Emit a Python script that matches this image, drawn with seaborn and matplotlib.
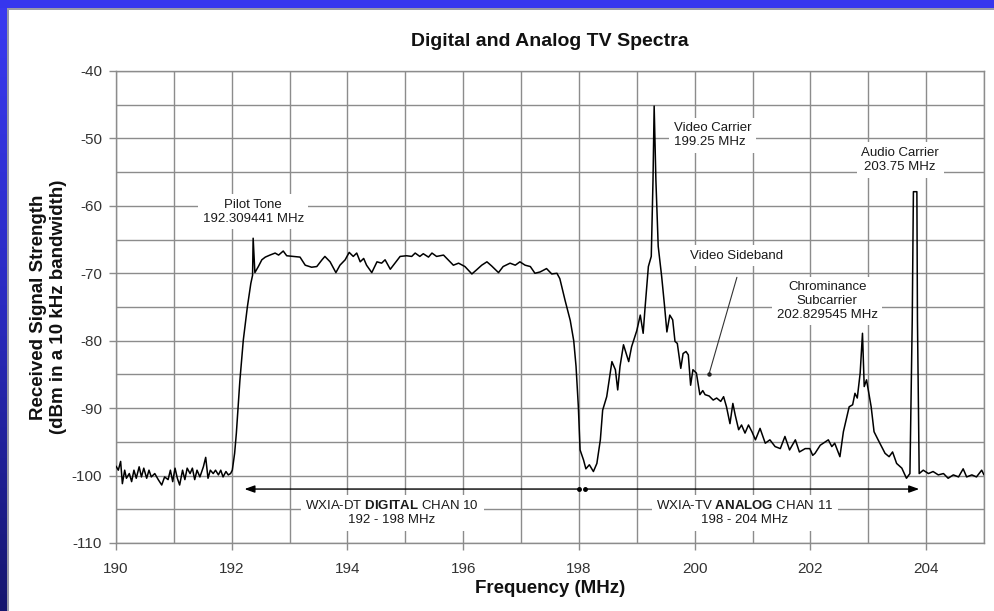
import numpy as np
import pandas as pd
import matplotlib
matplotlib.use("Agg")
import matplotlib.pyplot as plt
from matplotlib.ticker import MultipleLocator, FixedLocator
from matplotlib.patches import Rectangle
from matplotlib.colors import LinearSegmentedColormap
import seaborn as sns

# ---------------- data ----------------
noise_low_freq = [190.00, 190.04, 190.08, 190.11, 190.15, 190.18, 190.23, 190.27, 190.31, 190.35,
                  190.40, 190.44, 190.48, 190.53, 190.57, 190.61, 190.67, 190.73, 190.79, 190.84,
                  190.90, 190.94, 190.98, 191.02, 191.06, 191.10, 191.15, 191.19, 191.23, 191.28,
                  191.32, 191.36, 191.40, 191.45, 191.51, 191.55, 191.59, 191.63, 191.68, 191.72,
                  191.77, 191.81, 191.85, 191.90, 191.94, 191.98, 192.01, 192.05, 192.08]
noise_low_dbm = [-98.6, -99.2, -97.9, -101.2, -99.2, -100.4, -99.7, -100.9, -99.2, -100.4,
                 -98.7, -100.2, -98.9, -100.4, -99.2, -100.2, -99.7, -100.6, -101.4, -100.2,
                 -100.6, -99.2, -100.9, -98.9, -100.4, -101.4, -99.2, -100.6, -98.9, -99.7,
                 -98.9, -100.6, -99.2, -100.2, -98.7, -97.3, -100.4, -99.2, -99.7, -99.2,
                 -99.9, -99.2, -100.2, -99.4, -99.9, -99.7, -99.2, -96.7, -93.7]

digital_freq = [192.14, 192.20, 192.27, 192.33, 192.36, 192.37, 192.40, 192.46, 192.52, 192.58,
                192.66, 192.75, 192.81, 192.89, 192.95, 193.07, 193.18, 193.27, 193.38, 193.47,
                193.56, 193.61, 193.70, 193.80, 193.87, 193.96, 194.03, 194.10, 194.16, 194.22,
                194.28, 194.33, 194.42, 194.51, 194.59, 194.65, 194.74, 194.82, 194.91, 195.02,
                195.11, 195.17, 195.25, 195.31, 195.40, 195.46, 195.54, 195.66, 195.74, 195.83,
                195.92, 196.03, 196.15, 196.23, 196.32, 196.41, 196.49, 196.61, 196.69, 196.81,
                196.90, 196.98, 197.07, 197.16, 197.24, 197.33, 197.44, 197.53, 197.62, 197.67,
                197.76, 197.85, 197.91, 197.95, 197.99, 198.02]
digital_dbm = [-86.0, -79.9, -75.0, -71.5, -70.3, -64.8, -69.9, -69.0, -68.0, -67.6,
               -67.3, -67.0, -67.3, -66.7, -67.4, -67.5, -67.6, -68.8, -69.1, -69.0,
               -68.0, -67.5, -68.3, -69.9, -68.8, -68.0, -66.9, -67.5, -67.0, -68.3,
               -67.8, -68.8, -69.9, -68.3, -68.5, -68.0, -69.4, -68.5, -67.5, -67.4,
               -67.5, -67.0, -67.5, -67.1, -67.6, -67.0, -67.5, -67.3, -68.0, -68.8,
               -68.5, -69.0, -70.1, -69.5, -68.8, -68.3, -68.9, -69.9, -69.0, -68.5,
               -68.8, -68.3, -68.8, -69.0, -70.0, -69.8, -69.3, -70.1, -70.0, -70.8,
               -74.0, -77.0, -80.0, -83.8, -89.8, -96.2]

analog_freq = [198.08, 198.12, 198.18, 198.25, 198.31, 198.37, 198.41, 198.48, 198.57, 198.63,
               198.67, 198.71, 198.77, 198.86, 198.91, 199.00, 199.06, 199.11, 199.14, 199.20,
               199.25, 199.28, 199.30, 199.33, 199.37, 199.43, 199.48, 199.52, 199.57, 199.62,
               199.66, 199.70, 199.76, 199.80, 199.85, 199.89, 199.93, 199.97, 200.03, 200.09,
               200.14, 200.18, 200.25, 200.32, 200.38, 200.45, 200.50, 200.55, 200.61, 200.66,
               200.70, 200.76, 200.81, 200.87, 200.93, 200.99, 201.05, 201.13, 201.22, 201.30,
               201.39, 201.48, 201.56, 201.64, 201.74, 201.81, 201.91, 201.99, 202.04, 202.08,
               202.17, 202.31, 202.37, 202.42, 202.51, 202.57, 202.67, 202.73, 202.77, 202.81,
               202.86, 202.90, 202.93, 202.97, 203.00, 203.05, 203.10, 203.17, 203.29, 203.36,
               203.42, 203.49, 203.58, 203.66, 203.72, 203.76, 203.78, 203.84, 203.85, 203.88]
analog_dbm = [-97.7, -99.0, -98.4, -99.4, -98.2, -94.7, -90.3, -88.3, -83.1, -84.3,
              -87.3, -83.8, -80.6, -83.1, -80.9, -78.5, -76.2, -78.9, -75.4, -69.0,
              -67.5, -56.2, -45.2, -56.2, -66.0, -70.5, -74.9, -78.7, -76.2, -76.9,
              -80.1, -80.4, -84.1, -81.9, -81.6, -82.1, -86.6, -84.3, -84.8, -88.0,
              -87.4, -88.0, -88.2, -88.8, -88.5, -89.0, -88.3, -89.8, -92.3, -89.3,
              -91.0, -93.2, -92.5, -93.7, -92.5, -93.5, -94.7, -93.0, -95.2, -94.7,
              -95.7, -96.0, -94.2, -96.2, -94.7, -96.5, -96.0, -96.0, -97.0, -96.7,
              -95.5, -94.7, -95.7, -95.2, -97.2, -93.5, -89.8, -89.5, -87.8, -88.5,
              -84.8, -78.9, -86.8, -85.8, -87.3, -89.8, -93.5, -94.7, -96.7, -97.2,
              -96.5, -98.2, -98.9, -100.4, -99.7, -76.9, -57.9, -57.9, -76.9, -99.7]

noise_high_freq = [203.95, 204.04, 204.12, 204.21, 204.30, 204.38, 204.47, 204.56, 204.64, 204.70,
                   204.79, 204.87, 204.96, 205.00]
noise_high_dbm = [-99.2, -99.7, -99.4, -99.9, -99.7, -100.4, -99.9, -100.2, -99.0, -100.2,
                  -99.9, -100.2, -99.2, -99.9]

x_tick_values = [190, 192, 194, 196, 198, 200, 202, 204]

title_text = "Digital and Analog TV Spectra"
x_label = "Frequency (MHz)"
y_label = "Received Signal Strength\n(dBm in a 10 kHz bandwidth)"

label_texts = ["Pilot Tone\n192.309441 MHz",
               "Video Carrier\n199.25 MHz",
               "Audio Carrier\n203.75 MHz",
               "Video Sideband",
               "Chrominance\nSubcarrier\n202.829545 MHz",
               "WXIA-DT $\\mathbf{DIGITAL}$ CHAN 10\n192 - 198 MHz",
               "WXIA-TV $\\mathbf{ANALOG}$ CHAN 11\n198 - 204 MHz"]
label_freq = [192.37, 199.64, 203.55, 200.72, 202.29, 194.77, 200.87]
label_dbm = [-60.9, -49.5, -53.2, -67.4, -74.1, -105.5, -105.5]
label_ha = ["center", "left", "center", "center", "center", "center", "center"]

span_level = -102.0
span_digital = [192.22, 198.00]
span_analog = [198.10, 203.88]
sideband_arrow_from = (200.73, -70.6)
sideband_arrow_to = (200.25, -84.9)

# ---------------- figure ----------------
sns.set_theme(style="white")
plt.rcParams['font.family'] = ['Liberation Sans', 'DejaVu Sans']
plt.rcParams['axes.unicode_minus'] = False
plt.rcParams['mathtext.fontset'] = 'custom'
plt.rcParams['mathtext.rm'] = 'Liberation Sans'
plt.rcParams['mathtext.bf'] = 'Liberation Sans:bold'
plt.rcParams['mathtext.it'] = 'Liberation Sans:italic'

fig = plt.figure(figsize=(9.95, 6.11), dpi=100)
fig.patch.set_facecolor('white')

ax = fig.add_axes([116 / 995, 1 - 543 / 611, 868 / 995, 472 / 611])
ax.set_facecolor('white')

df = pd.DataFrame({
    "freq": noise_low_freq + digital_freq + analog_freq + noise_high_freq,
    "level": noise_low_dbm + digital_dbm + analog_dbm + noise_high_dbm,
})
sns.lineplot(data=df, x="freq", y="level", ax=ax, color="black", lw=1.1,
             estimator=None, sort=False, zorder=4)

grid_c = "#8c8c8c"
ax.set_xlim(190, 205)
ax.set_ylim(-110, -40)
ax.xaxis.set_major_locator(FixedLocator(x_tick_values))
ax.xaxis.set_minor_locator(MultipleLocator(1))
ax.yaxis.set_major_locator(MultipleLocator(10))
ax.yaxis.set_minor_locator(MultipleLocator(5))
ax.grid(True, which="both", color=grid_c, lw=1.0, zorder=0)
ax.set_axisbelow(True)
ax.tick_params(which="major", direction="out", length=5, width=1, color=grid_c,
               labelsize=11, labelcolor="#333333", bottom=True, left=True)
ax.tick_params(axis="x", pad=9)
ax.tick_params(axis="y", pad=5)
ax.tick_params(which="minor", length=0)
for s in ax.spines.values():
    s.set_color(grid_c)
    s.set_linewidth(1)

ax.set_title(title_text, fontsize=14, fontweight="bold", color="#111111",
             y=1 + (71 - 46) / 472, pad=0)
ax.set_xlabel(x_label, fontsize=13.5, fontweight="bold", color="#111111")
ax.xaxis.set_label_coords(0.5, (543 - 580) / 472)
ax.set_ylabel(y_label, fontsize=13.5, fontweight="bold", color="#111111", linespacing=1.2)
ax.yaxis.set_label_coords((67 - 116) / 868, 0.5)

box = dict(boxstyle="square,pad=0.35", facecolor="white", edgecolor="none")
for t, fx, fy, ha in zip(label_texts, label_freq, label_dbm, label_ha):
    ax.text(fx, fy, t, ha=ha, va="center", fontsize=9.5, color="#1a1a1a",
            linespacing=1.2, bbox=box, zorder=5)

arrow_kw = dict(arrowstyle="-|>,head_length=0.5,head_width=0.18", color="black",
                lw=1.0, shrinkA=0, shrinkB=0)
ax.annotate("", xy=(span_digital[0], span_level), xytext=(span_digital[1], span_level),
            arrowprops=arrow_kw, zorder=6)
ax.annotate("", xy=(span_analog[1], span_level), xytext=(span_analog[0], span_level),
            arrowprops=arrow_kw, zorder=6)
ax.plot([span_digital[1], span_analog[0]], [span_level, span_level], "o",
        color="black", ms=2.5, zorder=6)
ax.annotate("", xy=sideband_arrow_to, xytext=sideband_arrow_from,
            arrowprops=dict(arrowstyle="-", color="#333333", lw=0.8,
                            shrinkA=0, shrinkB=0), zorder=6)
ax.plot([sideband_arrow_to[0]], [sideband_arrow_to[1]], "o", color="#222222",
        ms=2.2, zorder=6)

# ---------------- blue frame ----------------
left = fig.add_axes([0, 0, 7 / 995, 1])
grad = np.linspace(0, 1, 256).reshape(-1, 1)
cmap = LinearSegmentedColormap.from_list("frame", ["#3a3af2", "#2a2ac0", "#16166e"])
left.imshow(grad, aspect="auto", cmap=cmap)
left.axis("off")
fig.add_artist(Rectangle((0, 1 - 8 / 611), 1, 8 / 611, transform=fig.transFigure,
                         facecolor="#3636ee", edgecolor="none", zorder=10))
fig.add_artist(Rectangle((7 / 995, 1 - 10 / 611), 1, 2 / 611, transform=fig.transFigure,
                         facecolor="#9a9aa8", edgecolor="none", zorder=10))
fig.add_artist(Rectangle((7 / 995, 0), 2 / 995, 1 - 8 / 611, transform=fig.transFigure,
                         facecolor="#9a9aa8", edgecolor="none", zorder=10))

fig.savefig("out.png", dpi=100, facecolor=fig.get_facecolor())
